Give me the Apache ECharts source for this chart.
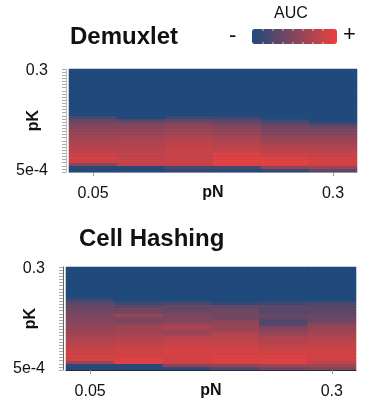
<!DOCTYPE html>
<html>
<head>
<meta charset="utf-8">
<script src="https://cdn.jsdelivr.net/npm/echarts@6/dist/echarts.min.js"></script>
<style>
html,body{margin:0;padding:0;background:#fff;}
#chart{width:382px;height:408px;}
</style>
</head>
<body>
<div id="chart"></div>
<script>
// ---- data ----
const pN = ['0.05','0.1','0.15','0.2','0.25','0.3'];
const pK = ['5e-4','0.001','0.005','0.01','0.02','0.03','0.04','0.05','0.06','0.07','0.08','0.09','0.1',
            '0.11','0.12','0.13','0.14','0.15','0.16','0.17','0.18','0.19','0.2','0.21','0.22','0.23',
            '0.24','0.25','0.26','0.27','0.28','0.29','0.3'];
// relative AUC (0 = lowest, 1 = highest), listed from pK = 5e-4 up to pK = 0.3
const demux_pN005 = [0.03,0.03,0.55,0.85,0.9,0.85,0.8,0.75,0.72,0.7,0.65,0.62,0.6,0.55,0.5,0.45,0.35,0.2,0,0,0,0,0,0,0,0,0,0,0,0,0,0,0];
const demux_pN010 = [0.02,0.05,0.8,0.82,0.82,0.8,0.78,0.75,0.72,0.7,0.68,0.65,0.6,0.55,0.5,0.45,0.3,0,0,0,0,0,0,0,0,0,0,0,0,0,0,0,0];
const demux_pN015 = [0.05,0.2,0.8,0.85,0.85,0.82,0.82,0.82,0.8,0.78,0.72,0.68,0.65,0.6,0.55,0.5,0.35,0.15,0,0,0,0,0,0,0,0,0,0,0,0,0,0,0];
const demux_pN020 = [0.05,0.2,0.92,0.95,0.95,0.92,0.85,0.8,0.75,0.72,0.7,0.65,0.6,0.55,0.5,0.4,0.3,0.15,0,0,0,0,0,0,0,0,0,0,0,0,0,0,0];
const demux_pN025 = [0.08,0.55,0.92,0.95,0.92,0.85,0.78,0.75,0.7,0.65,0.6,0.55,0.5,0.45,0.4,0.3,0.15,0,0,0,0,0,0,0,0,0,0,0,0,0,0,0,0];
const demux_pN030 = [0.28,0.6,0.85,0.9,0.88,0.85,0.78,0.72,0.68,0.65,0.6,0.55,0.5,0.45,0.35,0.2,0,0,0,0,0,0,0,0,0,0,0,0,0,0,0,0,0];

const hash_pN005 = [0.05,0.05,0.6,0.9,0.9,0.85,0.82,0.78,0.75,0.72,0.68,0.65,0.62,0.58,0.55,0.5,0.48,0.45,0.42,0.4,0.35,0.3,0.15,0,0,0,0,0,0,0,0,0,0];
const hash_pN010 = [0.03,0.05,0.95,0.95,0.9,0.88,0.85,0.82,0.8,0.75,0.7,0.68,0.65,0.62,0.6,0.45,0.45,0.6,0.42,0.4,0.3,0.15,0,0,0,0,0,0,0,0,0,0,0];
const hash_pN015 = [0.1,0.5,0.85,0.88,0.9,0.9,0.88,0.85,0.85,0.78,0.75,0.62,0.62,0.68,0.65,0.5,0.48,0.45,0.38,0.35,0.35,0.2,0,0,0,0,0,0,0,0,0,0,0];
const hash_pN020 = [0.25,0.55,0.9,0.92,0.92,0.9,0.88,0.85,0.82,0.8,0.75,0.75,0.65,0.6,0.58,0.55,0.42,0.4,0.4,0.38,0.3,0.1,0,0,0,0,0,0,0,0,0,0,0];
const hash_pN025 = [0.4,0.6,0.92,0.95,0.92,0.9,0.85,0.8,0.75,0.72,0.7,0.6,0.55,0.5,0.3,0.22,0.3,0.35,0.25,0.28,0.3,0.15,0,0,0,0,0,0,0,0,0,0,0];
const hash_pN030 = [0.45,0.65,0.8,0.85,0.9,0.88,0.85,0.82,0.8,0.78,0.7,0.68,0.65,0.6,0.55,0.4,0.38,0.35,0.3,0.3,0.28,0.2,0,0,0,0,0,0,0,0,0,0,0];

const demuxCols = [demux_pN005, demux_pN010, demux_pN015, demux_pN020, demux_pN025, demux_pN030];
const hashCols  = [hash_pN005, hash_pN010, hash_pN015, hash_pN020, hash_pN025, hash_pN030];

function toCells(cols){
  const out = [];
  cols.forEach((col, j) => col.forEach((v, i) => out.push([j, i, v])));
  return out;
}

const FONT = '"Liberation Sans", Arial, Helvetica, sans-serif';
const lastK = pK.length - 1, lastN = pN.length - 1;

function xAxisCfg(gridIndex, lineColor){
  return {
    type: 'category', data: pN, gridIndex,
    axisLine: {show: true, lineStyle: {color: lineColor, width: 1}},
    axisTick: {show: true, alignWithLabel: true, length: 4, lineStyle: {color: '#999'}},
    axisLabel: {
      interval: (idx) => idx === 0 || idx === lastN,
      margin: 14, fontSize: 16, color: '#111', fontFamily: FONT
    },
    name: 'pN', nameLocation: 'middle', nameGap: 13, nameMoveOverlap: false,
    nameTextStyle: {fontSize: 16, fontWeight: 'bold', color: '#111', fontFamily: FONT, verticalAlign: 'top'},
    splitLine: {show: false}
  };
}
function yAxisCfg(gridIndex, lineColor){
  return {
    type: 'category', data: pK, gridIndex, offset: 3,
    axisLine: {show: true, lineStyle: {color: lineColor, width: 1}},
    axisTick: {show: true, interval: 0, length: 4, lineStyle: {color: '#aaa'}},
    axisLabel: {
      interval: (idx) => idx === 0 || idx === lastK,
      margin: 18, fontSize: 16, color: '#111', fontFamily: FONT
    },
    name: 'pK', nameLocation: 'middle', nameGap: 24, nameRotate: 90, nameMoveOverlap: false,
    nameTextStyle: {fontSize: 16, fontWeight: 'bold', color: '#111', fontFamily: FONT},
    splitLine: {show: false}
  };
}

const chart = echarts.init(document.getElementById('chart'), null, {renderer: 'canvas'});
const legendTicks = [];
[263, 273, 283, 293, 303, 313, 323].forEach(x => {
  legendTicks.push({type: 'line', shape: {x1: x, y1: 29, x2: x, y2: 31}, style: {stroke: 'rgba(255,255,255,0.7)', lineWidth: 1}, z: 100});
  legendTicks.push({type: 'line', shape: {x1: x, y1: 42, x2: x, y2: 44}, style: {stroke: 'rgba(255,255,255,0.7)', lineWidth: 1}, z: 100});
});
chart.setOption({
  backgroundColor: '#fff',
  animation: false,
  title: [
    {text: 'Demuxlet', left: 70, top: 25, padding: 0, textStyle: {fontSize: 24, fontWeight: 'bold', color: '#111', fontFamily: FONT}},
    {text: 'Cell Hashing', left: 79, top: 227, padding: 0, textStyle: {fontSize: 24, fontWeight: 'bold', color: '#111', fontFamily: FONT}}
  ],
  grid: [
    {left: 69, top: 69, width: 288, height: 103, outerBoundsMode: 'none', containLabel: false,
     show: true, borderWidth: 0, backgroundColor: '#1f4a7b'},
    {left: 66, top: 267, width: 290, height: 103, outerBoundsMode: 'none', containLabel: false,
     show: true, borderWidth: 0, backgroundColor: '#1f4a7b'}
  ],
  xAxis: [xAxisCfg(0, '#aaa'), xAxisCfg(1, '#222')],
  yAxis: [yAxisCfg(0, '#bbb'), yAxisCfg(1, '#666')],
  visualMap: {
    type: 'continuous', min: 0, max: 1, seriesIndex: [0, 1],
    orient: 'horizontal', left: 252, top: 29, padding: 0, itemWidth: 15, itemHeight: 85,
    calculable: false, hoverLink: false, text: null, showLabel: false,
    inRange: {color: ['#1f4a7b', '#ea413e']}
  },
  graphic: [
    {type: 'text', left: 274, top: 6, style: {text: 'AUC', fontSize: 16, fill: '#111', fontFamily: FONT}},
    {type: 'text', left: 229, top: 25, style: {text: '-', fontSize: 22, fill: '#111', fontFamily: FONT}},
    {type: 'text', left: 343, top: 24, style: {text: '+', fontSize: 22, fill: '#111', fontFamily: FONT}}
  ].concat(legendTicks),
  series: [
    {type: 'heatmap', xAxisIndex: 0, yAxisIndex: 0, data: toCells(demuxCols), itemStyle: {borderWidth: 0}, emphasis: {disabled: true}},
    {type: 'heatmap', xAxisIndex: 1, yAxisIndex: 1, data: toCells(hashCols), itemStyle: {borderWidth: 0}, emphasis: {disabled: true}}
  ]
});
</script>
</body>
</html>
